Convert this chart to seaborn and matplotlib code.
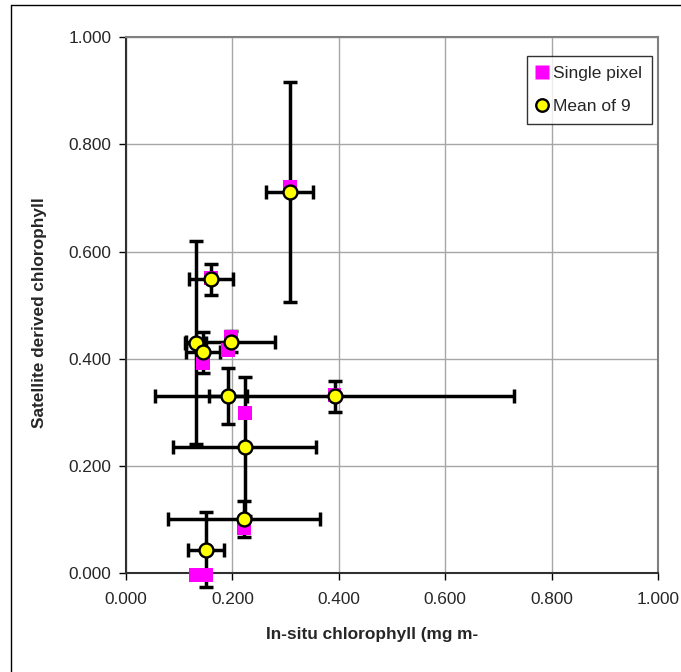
import matplotlib
matplotlib.use("Agg")
import matplotlib.pyplot as plt
import matplotlib.lines as mlines
import seaborn as sns
import pandas as pd

# ---- data ----
insitu = [0.308, 0.160, 0.131, 0.145, 0.197, 0.192, 0.392, 0.223, 0.222, 0.150]
mean_of_9 = [0.711, 0.548, 0.430, 0.412, 0.432, 0.330, 0.330, 0.236, 0.101, 0.043]
single_pixel = [0.721, 0.551, -0.004, 0.391, 0.441, 0.416, 0.332, 0.298, 0.083, -0.004]
yerr = [0.206, 0.029, 0.190, 0.038, 0.020, 0.052, 0.029, 0.129, 0.034, 0.070]
xerr = [0.044, 0.042, 0.020, 0.032, 0.084, 0.036, 0.337, 0.134, 0.143, 0.034]
ticks = [0.0, 0.2, 0.4, 0.6, 0.8, 1.0]
tick_labels = ["0.000", "0.200", "0.400", "0.600", "0.800", "1.000"]

sns.set_style("white")
plt.rcParams["font.family"] = ["Liberation Sans", "DejaVu Sans"]

df = pd.DataFrame({"insitu": insitu, "mean": mean_of_9, "single": single_pixel,
                   "xerr": xerr, "yerr": yerr})

W, H = 681, 672
fig = plt.figure(figsize=(W / 100, H / 100), dpi=100)
ax = fig.add_axes([126 / W, 1 - 573 / H, (658 - 126) / W, (573 - 37.3) / H])

# error bars (beneath markers)
ax.errorbar(df["insitu"], df["mean"], xerr=df["xerr"], yerr=df["yerr"],
            fmt="none", ecolor="black", elinewidth=2.5, capsize=4.8,
            capthick=2.5, zorder=2, clip_on=False)

sns.scatterplot(data=df, x="insitu", y="single", ax=ax, marker="s", s=100,
                color="#FF00FF", edgecolor="none", linewidth=0, zorder=3,
                clip_on=False, legend=False)
sns.scatterplot(data=df, x="insitu", y="mean", ax=ax, marker="o", s=100,
                color="#FFFF00", edgecolor="black", linewidth=1.7, zorder=4,
                clip_on=False, legend=False)

ax.set_xlim(0, 1)
ax.set_ylim(0, 1)
ax.set_xticks(ticks)
ax.set_yticks(ticks)
ax.set_xticklabels(tick_labels, fontsize=12.4)
ax.set_yticklabels(tick_labels, fontsize=12.4)
ax.tick_params(axis="both", which="major", direction="out", length=5,
               width=1, color="black", left=True, bottom=True)
ax.tick_params(axis="x", pad=8.5)
ax.tick_params(axis="y", pad=5.5)
ax.grid(True, color="#a6a6a6", linewidth=1)
ax.set_axisbelow(True)
for side in ["top", "right"]:
    ax.spines[side].set_color("#808080")
    ax.spines[side].set_linewidth(1.5)
for side in ["left", "bottom"]:
    ax.spines[side].set_color("#303030")
    ax.spines[side].set_linewidth(1.5)
ax.set_xlabel("")
ax.set_ylabel("")

fig.text(372 / W, 1 - 635 / H, "In-situ chlorophyll (mg m-", fontsize=12.4,
         fontweight="bold", ha="center", va="center")
fig.text(40 / W, 1 - 313 / H, "Satellite derived chlorophyll", fontsize=12.4,
         fontweight="bold", ha="center", va="center", rotation=90)

h1 = mlines.Line2D([], [], linestyle="none", marker="s", markersize=9.5,
                   markerfacecolor="#FF00FF", markeredgecolor="none")
h2 = mlines.Line2D([], [], linestyle="none", marker="o", markersize=9,
                   markerfacecolor="#FFFF00", markeredgecolor="black",
                   markeredgewidth=1.7)
leg = ax.legend([h1, h2], ["Single pixel", "Mean of 9"],
                loc="upper left", bbox_to_anchor=((527 - 126) / (658 - 126),
                                                  (573 - 56) / (573 - 37.3)),
                fontsize=12.5, frameon=True, fancybox=False, shadow=False,
                borderpad=0.59, handletextpad=0.31, handlelength=0.6,
                labelspacing=1.0, borderaxespad=0)
leg.get_frame().set_edgecolor("black")
leg.get_frame().set_linewidth(1)
leg.get_frame().set_facecolor("white")
leg.set_zorder(10)

# outer chart frame (left and top edges visible)
fig.add_artist(mlines.Line2D([10.5 / W, 10.5 / W], [0, 1 - 4.5 / H],
                             transform=fig.transFigure, color="black", lw=1))
fig.add_artist(mlines.Line2D([10.5 / W, 1], [1 - 4.5 / H, 1 - 4.5 / H],
                             transform=fig.transFigure, color="black", lw=1))

fig.savefig("out.png", dpi=100)
